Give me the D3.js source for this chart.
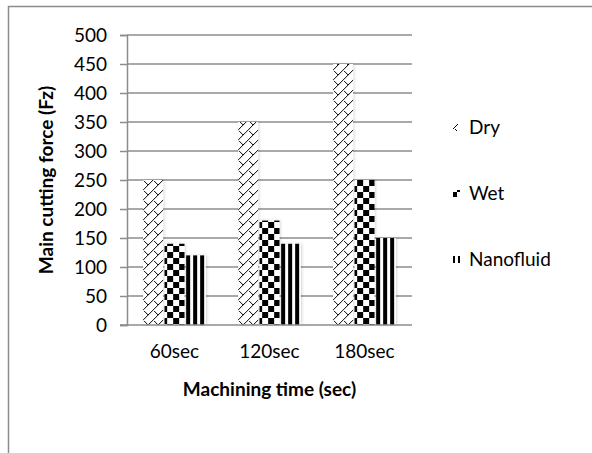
<!DOCTYPE html>
<html>
<head>
<meta charset="utf-8">
<script src="https://cdnjs.cloudflare.com/ajax/libs/d3/7.8.5/d3.min.js"></script>
<style>
  body { margin: 0; background: #fff; }
  svg { display: block; font-family: Lato, "Open Sans", sans-serif; }
</style>
</head>
<body>
<div class="graph-container"></div>
<script>
// chart data
var categories = ['60sec', '120sec', '180sec'];
var seriesNames = ['Dry', 'Wet', 'Nanofluid'];
var dryValues = [250, 350, 450];
var wetValues = [140, 180, 250];
var nanoValues = [120, 140, 150];
var yTicks = [0, 50, 100, 150, 200, 250, 300, 350, 400, 450, 500];

var seriesValues = [dryValues, wetValues, nanoValues];
var patternKinds = ['dry', 'wet', 'nano'];

var svgWidth = 592;
var svgHeight = 453;
var plotLeft = 127, plotRight = 412, plotTop = 35, plotBottom = 325;
var fontFamily = 'Lato, "Open Sans", sans-serif';

var svg = d3.select('.graph-container').append('svg')
  .attr('width', svgWidth)
  .attr('height', svgHeight);

// outer chart border (left and top edges visible)
svg.append('rect')
  .attr('x', 8.5).attr('y', 6.5)
  .attr('width', 700).attr('height', 600)
  .attr('fill', 'none')
  .attr('stroke', '#8c8c8c')
  .attr('stroke-width', 1.5);

var defs = svg.append('defs');

// build one fill pattern; tx/ty shift the pattern origin
function makePattern(id, kind, tx, ty) {
  var p = defs.append('pattern')
    .attr('id', id)
    .attr('patternUnits', 'userSpaceOnUse')
    .attr('patternTransform', 'translate(' + tx + ',' + ty + ')');
  if (kind === 'dry') {
    // zig-zag diagonal hatch
    p.attr('width', 10).attr('height', 10);
    p.append('rect').attr('width', 10).attr('height', 10).attr('fill', '#fff');
    p.append('path')
      .attr('d', 'M10,0 L0,10 M1,1 L5,5 M-1,9 L1,11 M9,-1 L11,1')
      .attr('stroke', '#000').attr('stroke-width', 1).attr('fill', 'none');
  } else if (kind === 'wet') {
    // large checkerboard
    p.attr('width', 12).attr('height', 12);
    p.append('rect').attr('width', 12).attr('height', 12).attr('fill', '#fff');
    p.append('rect').attr('width', 6).attr('height', 6).attr('fill', '#000');
    p.append('rect').attr('x', 6).attr('y', 6).attr('width', 6).attr('height', 6).attr('fill', '#000');
  } else {
    // vertical stripes
    p.attr('width', 7).attr('height', 7);
    p.append('rect').attr('width', 7).attr('height', 7).attr('fill', '#fff');
    p.append('rect').attr('x', 1).attr('width', 4).attr('height', 7).attr('fill', '#000');
  }
}

patternKinds.forEach(function(k) { makePattern('pat-' + k, k, 0, 0); });

// soft shadow behind bars
var filter = defs.append('filter').attr('id', 'shadow')
  .attr('x', '-30%').attr('y', '-10%').attr('width', '160%').attr('height', '120%');
filter.append('feGaussianBlur').attr('in', 'SourceAlpha').attr('stdDeviation', 1.5).attr('result', 'blur');
filter.append('feOffset').attr('in', 'blur').attr('dx', 1).attr('dy', 0).attr('result', 'off');
filter.append('feComponentTransfer').attr('in', 'off').attr('result', 'soft')
  .append('feFuncA').attr('type', 'linear').attr('slope', 0.18);
var merge = filter.append('feMerge');
merge.append('feMergeNode').attr('in', 'soft');
merge.append('feMergeNode').attr('in', 'SourceGraphic');

// scales
var xScale = d3.scaleBand()
  .domain(categories)
  .range([plotLeft, plotRight])
  .paddingInner(0.34)
  .paddingOuter(0.17);

var xInner = d3.scaleBand()
  .domain(seriesNames)
  .range([0, xScale.bandwidth()])
  .paddingInner(0.07);

var yScale = d3.scaleLinear()
  .domain([0, 500])
  .range([plotBottom, plotTop]);

// gridlines
svg.append('g').selectAll('line')
  .data(yTicks.slice(1))
  .enter()
  .append('line')
  .attr('x1', plotLeft).attr('x2', plotRight)
  .attr('y1', function(d) { return yScale(d); })
  .attr('y2', function(d) { return yScale(d); })
  .attr('stroke', '#8c8c8c')
  .attr('stroke-width', 1.5);

// y axis
var yAxis = svg.append('g')
  .attr('transform', 'translate(' + plotLeft + ',0)')
  .call(d3.axisLeft(yScale).tickValues(yTicks).tickSize(7).tickPadding(13))
  .attr('font-family', fontFamily)
  .attr('font-size', 19);
yAxis.selectAll('line, path').attr('stroke', '#8c8c8c').attr('stroke-width', 1.5);
yAxis.selectAll('text').attr('fill', '#000');

// bars
var groups = svg.append('g').selectAll('g')
  .data(categories)
  .enter()
  .append('g')
  .attr('transform', function(d) { return 'translate(' + xScale(d) + ',0)'; });

groups.selectAll('rect')
  .data(function(d, i) {
    return seriesNames.map(function(s, j) { return { name: s, value: seriesValues[j][i], k: j }; });
  })
  .enter()
  .append('rect')
  .attr('x', function(d) { return xInner(d.name); })
  .attr('y', function(d) { return yScale(d.value); })
  .attr('width', xInner.bandwidth())
  .attr('height', function(d) { return plotBottom - yScale(d.value); })
  .attr('fill', function(d) { return 'url(#pat-' + patternKinds[d.k] + ')'; })
  .attr('filter', 'url(#shadow)');

// x axis
var xAxis = svg.append('g')
  .attr('transform', 'translate(0,' + plotBottom + ')')
  .call(d3.axisBottom(xScale).tickSize(0).tickPadding(20).tickSizeOuter(0))
  .attr('font-family', fontFamily)
  .attr('font-size', 19);
xAxis.selectAll('path').attr('stroke', '#8c8c8c').attr('stroke-width', 1.5)
  .attr('d', 'M' + (plotLeft - 7) + ',0H' + plotRight);
xAxis.selectAll('text').attr('fill', '#000');

// axis titles
svg.append('text')
  .attr('x', (plotLeft + plotRight) / 2)
  .attr('y', 396)
  .style('text-anchor', 'middle')
  .style('font-weight', 'bold')
  .style('font-size', '19px')
  .text('Machining time (sec)');

svg.append('text')
  .attr('transform', 'translate(53,' + ((plotTop + plotBottom) / 2) + ') rotate(-90)')
  .style('text-anchor', 'middle')
  .style('font-weight', 'bold')
  .style('font-size', '19px')
  .text('Main cutting force (Fz)');

// legend
var legendX = 453;
var legendY = [127, 193, 259];
var legendShift = [[-2, -3], [1, 1], [-1, 0]];
patternKinds.forEach(function(k, i) {
  makePattern('leg-' + k, k, legendX + legendShift[i][0], legendY[i] - 3 + legendShift[i][1]);
});

var legend = svg.append('g').selectAll('g')
  .data(seriesNames)
  .enter()
  .append('g')
  .attr('transform', function(d, i) { return 'translate(' + legendX + ',' + legendY[i] + ')'; });

legend.append('rect')
  .attr('x', 0).attr('y', -3)
  .attr('width', 7).attr('height', 7)
  .attr('fill', function(d, i) { return 'url(#leg-' + patternKinds[i] + ')'; });

legend.append('text')
  .attr('x', 16)
  .attr('y', 7)
  .style('font-size', '19px')
  .text(function(d) { return d; });
</script>
</body>
</html>
